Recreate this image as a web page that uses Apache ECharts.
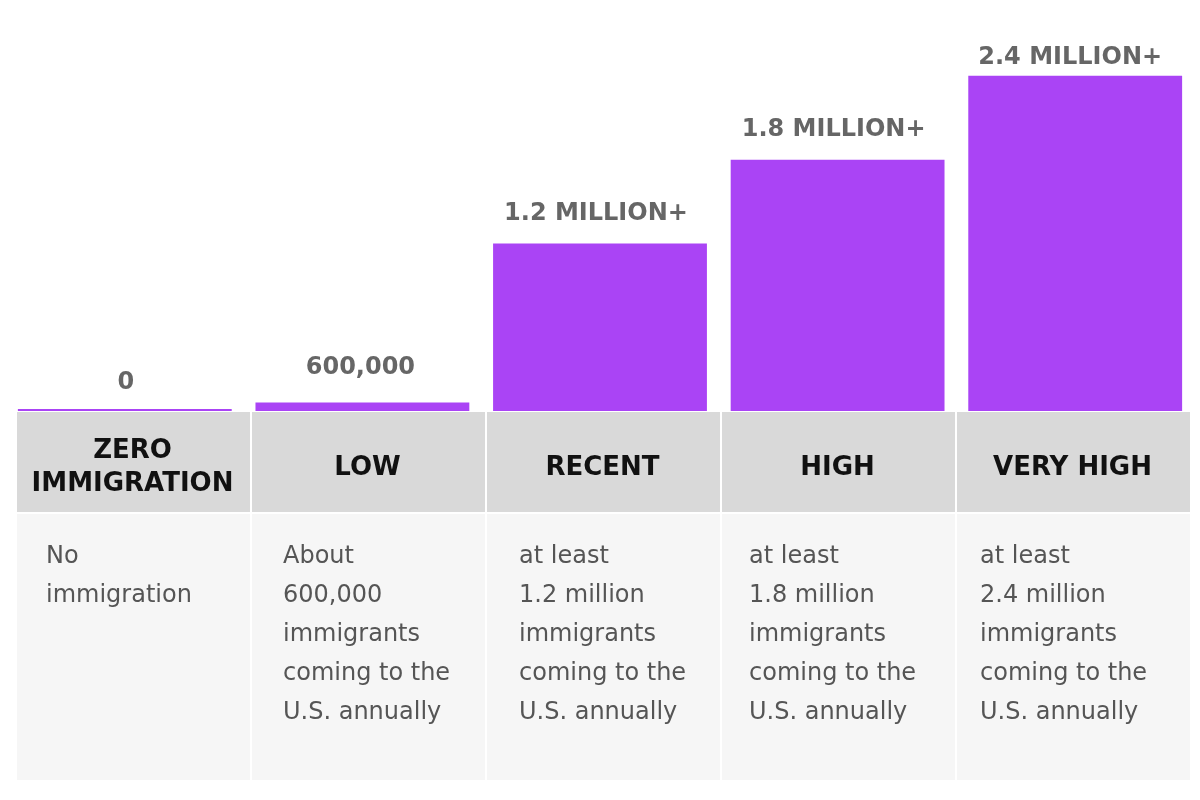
<!DOCTYPE html>
<html>
<head>
<meta charset="utf-8">
<script src="https://cdn.jsdelivr.net/npm/echarts@6/dist/echarts.min.js"></script>
<style>
html,body{margin:0;padding:0;background:#fff;}
#chart{width:1200px;height:800px;}
</style>
</head>
<body>
<div id="chart"></div>
<script>
// ---- data ----
const categories = ["ZERO\nIMMIGRATION", "LOW", "RECENT", "HIGH", "VERY HIGH"];
// bar heights as drawn in the picture (millions)
const barValues = [0.015, 0.06, 1.2, 1.8, 2.4];
const valueLabels = ["0", "600,000", "1.2 MILLION+", "1.8 MILLION+", "2.4 MILLION+"];
const descriptions = [
  "No\nimmigration",
  "About\n600,000\nimmigrants\ncoming to the\nU.S. annually",
  "at least\n1.2 million\nimmigrants\ncoming to the\nU.S. annually",
  "at least\n1.8 million\nimmigrants\ncoming to the\nU.S. annually",
  "at least\n2.4 million\nimmigrants\ncoming to the\nU.S. annually"
];

// ---- layout (not data) ----
const FONT = "'DejaVu Sans', sans-serif";
const labelDistance = [14, 23, 18, 18, 6];
const labelShiftX = [1, -2, -4, -4, -5];
const descPad = [29, 31, 32, 27, 23];
const tableLeft = 17, tableRight = 1190;
const headTop = 412, headH = 100, gap = 2, bodyBottom = 780;
const colW = (tableRight - tableLeft + gap) / categories.length;

const graphics = [];
categories.forEach((c, i) => {
  const x = tableLeft + i * colW;
  const w = colW - gap;
  graphics.push({
    type: 'rect', shape: {x: x, y: headTop, width: w, height: headH},
    style: {fill: '#d9d9d9'}, z: 1
  });
  graphics.push({
    type: 'rect', shape: {x: x, y: headTop + headH + gap, width: w, height: bodyBottom - headTop - headH - gap},
    style: {fill: '#f6f6f6'}, z: 1
  });
  graphics.push({
    type: 'text', x: x + w / 2 - 1, y: headTop + headH / 2 + 6, z: 2,
    style: {text: c, fill: '#111', font: "bold 26px " + FONT, align: 'center', verticalAlign: 'middle', lineHeight: 33}
  });
  graphics.push({
    type: 'text', x: x + descPad[i], y: 537, z: 2,
    style: {text: descriptions[i], fill: '#555', font: "24px " + FONT, align: 'left', verticalAlign: 'top', lineHeight: 39}
  });
});

const chart = echarts.init(document.getElementById('chart'));
chart.setOption({
  backgroundColor: '#fff',
  animation: false,
  grid: {left: 6, right: 6, top: 20, bottom: 389},
  xAxis: {
    type: 'category', data: categories,
    axisLine: {show: false}, axisTick: {show: false}, axisLabel: {show: false}
  },
  yAxis: {
    type: 'value', min: 0, max: 2.8,
    axisLine: {show: false}, axisTick: {show: false}, axisLabel: {show: false}, splitLine: {show: false}
  },
  series: [{
    type: 'bar',
    data: barValues.map((v, i) => ({value: v, label: {distance: labelDistance[i], offset: [labelShiftX[i], 0]}})),
    barWidth: '90%',
    itemStyle: {color: '#aa44f5'},
    label: {
      show: true, position: 'top',
      formatter: p => valueLabels[p.dataIndex],
      color: '#666', fontWeight: 'bold', fontSize: 24, fontFamily: FONT
    },
    z: 3
  }],
  graphic: graphics
});
</script>
</body>
</html>
